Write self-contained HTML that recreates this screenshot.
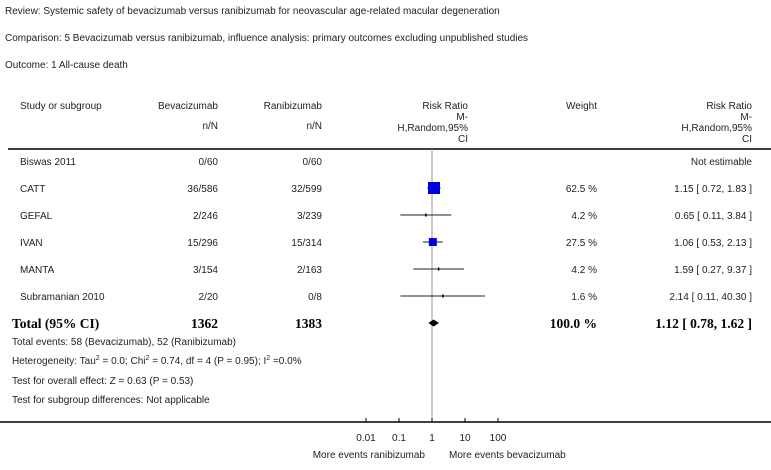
<!DOCTYPE html>
<html><head><meta charset="utf-8"><style>
body{margin:0;background:#fff;width:771px;height:465px;overflow:hidden;font-family:"Liberation Sans",sans-serif;}
svg text{font-family:"Liberation Sans",sans-serif;font-size:10px;fill:#222;}
svg text.tot{font-family:"Liberation Serif",serif;font-size:13.5px;font-weight:bold;fill:#000;}
</style></head><body>
<svg id="c" width="771" height="465">
<text x="5" y="14">Review:   Systemic safety of bevacizumab versus ranibizumab for neovascular age-related macular degeneration</text>
<text x="5" y="41">Comparison:   5 Bevacizumab versus ranibizumab, influence analysis: primary outcomes excluding unpublished studies</text>
<text x="5" y="68">Outcome:   1 All-cause death</text>
<g>
<text x="20" y="109">Study or subgroup</text>
<text x="218" y="109" text-anchor="end">Bevacizumab</text>
<text x="218" y="129" text-anchor="end">n/N</text>
<text x="322" y="109" text-anchor="end">Ranibizumab</text>
<text x="322" y="129" text-anchor="end">n/N</text>
<text x="468" y="109" text-anchor="end">Risk Ratio</text>
<text x="468" y="120" text-anchor="end">M-</text>
<text x="468" y="131" text-anchor="end">H,Random,95%</text>
<text x="468" y="142" text-anchor="end">CI</text>
<text x="597" y="109" text-anchor="end">Weight</text>
<text x="752" y="109" text-anchor="end">Risk Ratio</text>
<text x="752" y="120" text-anchor="end">M-</text>
<text x="752" y="131" text-anchor="end">H,Random,95%</text>
<text x="752" y="142" text-anchor="end">CI</text>
</g>
<line x1="8" y1="149" x2="771" y2="149" stroke="#000" stroke-width="1.5"/>
<line x1="0" y1="422" x2="771" y2="422" stroke="#000" stroke-width="1.5"/>
<g id="rows"></g>
<g>
<text x="12" y="345">Total events: 58 (Bevacizumab), 52 (Ranibizumab)</text>
<text x="12" y="364">Heterogeneity: Tau<tspan dy="-4" font-size="7">2</tspan><tspan dy="4"> = 0.0; Chi</tspan><tspan dy="-4" font-size="7">2</tspan><tspan dy="4"> = 0.74, df = 4 (P = 0.95); I</tspan><tspan dy="-4" font-size="7">2</tspan><tspan dy="4"> =0.0%</tspan></text>
<text x="12" y="384">Test for overall effect: Z = 0.63 (P = 0.53)</text>
<text x="12" y="403">Test for subgroup differences: Not applicable</text>
<text x="425" y="458" text-anchor="end">More events ranibizumab</text>
<text x="449" y="458">More events bevacizumab</text>
</g>
</svg>
<script>
const studies=["Biswas 2011","CATT","GEFAL","IVAN","MANTA","Subramanian 2010"];
const bevN=["0/60","36/586","2/246","15/296","3/154","2/20"];
const ranN=["0/60","32/599","3/239","15/314","2/163","0/8"];
const rr=[null,1.15,0.65,1.06,1.59,2.14];
const lo=[null,0.72,0.11,0.53,0.27,0.11];
const hi=[null,1.83,3.84,2.13,9.37,40.30];
const weight=[null,62.5,4.2,27.5,4.2,1.6];
const total={rr:1.12,lo:0.78,hi:1.62,bev:"1362",ran:"1383"};
const ticks=[0.01,0.1,1,10,100];
const tickLabels=["0.01","0.1","1","10","100"];
const NS="http://www.w3.org/2000/svg";
const g=document.getElementById('rows');
const xs=v=>432+33*Math.log10(v);
const rowY=i=>161+i*27;
function el(t,a,txt){const e=document.createElementNS(NS,t);for(const k in a)e.setAttribute(k,a[k]);if(txt!=null)e.textContent=txt;g.appendChild(e);return e;}
const f2=v=>v.toFixed(2);
let e=el('line',{x1:432,y1:149,x2:432,y2:422,stroke:'#999'});


ticks.forEach((t,i)=>{
 let l=el('line',{x1:xs(t),y1:418,x2:xs(t),y2:422,stroke:'#000'});
 
 
 let tx=el('text',{x:xs(t),y:441,'text-anchor':'middle','font-size':'9'},tickLabels[i]);
 
 
});
studies.forEach((s,i)=>{
 const y=rowY(i);
 let a=el('text',{x:20,y:y+4},s);
 let b=el('text',{x:218,y:y+4,'text-anchor':'end'},bevN[i]);
 let c=el('text',{x:322,y:y+4,'text-anchor':'end'},ranN[i]);
 if(rr[i]==null){let n=el('text',{x:752,y:y+4,'text-anchor':'end'},'Not estimable');return;}
 let w=el('text',{x:597,y:y+4,'text-anchor':'end'},weight[i].toFixed(1)+' %');
 let r=el('text',{x:752,y:y+4,'text-anchor':'end'},f2(rr[i])+' [ '+f2(lo[i])+', '+f2(hi[i])+' ]');
 let ci=el('line',{x1:xs(lo[i]),y1:y,x2:xs(hi[i]),y2:y,stroke:'#222'});
 const big=weight[i]>10;
 const sz=big?12*Math.sqrt(weight[i]/62.5):1.5;
 let sq=el('rect',{x:xs(rr[i])-sz/2,y:y-(big?sz/2:1.5),width:sz,height:big?sz:3,fill:big?'#0000dd':'#000'});
});
const ty=323;
[['Total (95% CI)',12,'start'],[total.bev,218,'end'],[total.ran,322,'end'],['100.0 %',597,'end'],[f2(total.rr)+' [ '+f2(total.lo)+', '+f2(total.hi)+' ]',752,'end']].forEach(d=>{
 let t=el('text',{x:d[1],y:ty+5,'text-anchor':d[2],'class':'tot'},d[0]);
 
 
});
let dm=el('polygon',{points:`${xs(total.lo)},${ty} ${xs(total.rr)},${ty-3.5} ${xs(total.hi)},${ty} ${xs(total.rr)},${ty+3.5}`,fill:'#000'});


</script>
</body></html>
